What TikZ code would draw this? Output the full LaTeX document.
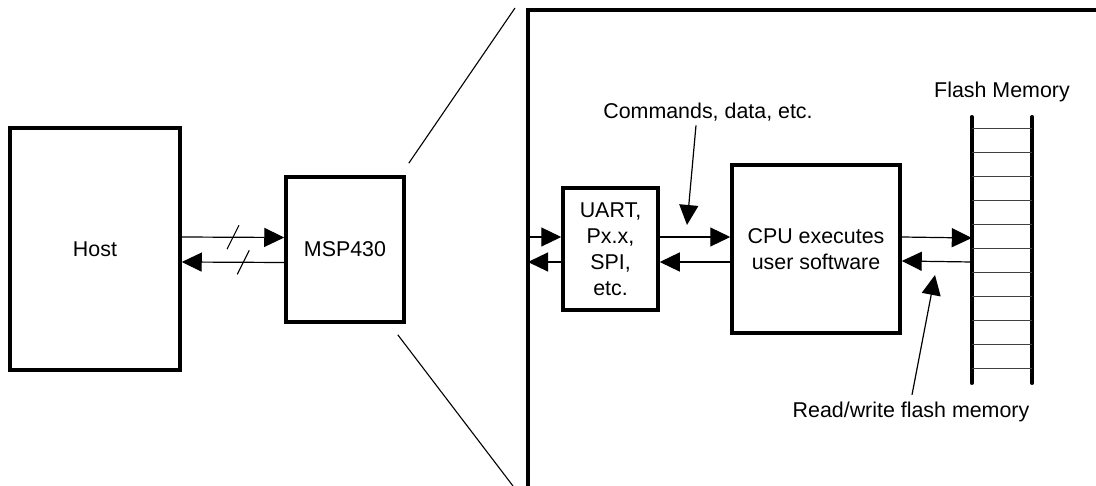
\documentclass[tikz,border=0pt]{standalone}
\usepackage{fontspec}
\setmainfont{Liberation Sans}
\usetikzlibrary{positioning, arrows.meta}

\begin{document}
\begin{tikzpicture}[x=1pt, y=-1pt,
    box/.style={draw, line width=3.5pt, inner sep=0pt, align=center, font=\fontsize{21.4}{26}\selectfont},
    link/.style={line width=1.2pt, -{Triangle[length=20pt, width=19pt]}},
    thinline/.style={line width=1.1pt},
    rung/.style={line width=1pt, black!75},
    caption/.style={font=\fontsize{21.4}{24}\selectfont, inner sep=0pt},
]
    \clip (0,0) rectangle (1096,486);
    % left side
    \node[box, minimum width=170, minimum height=242] (host) at (95,249) {Host};
    \node[box, minimum width=118, minimum height=145] (msp) at (345,249.5) {MSP430};
    \draw[link] ([yshift=12]host.east) -- coordinate[pos=0.5] (s1) ([yshift=12]msp.west);
    \draw[link] ([yshift=-13]msp.west) -- coordinate[pos=0.4] (s2) ([yshift=-13]host.east);
    \draw[thinline] ([shift={(-6,12)}]s1) -- ([shift={(6,-12)}]s1);
    \draw[thinline] ([shift={(-6,12)}]s2) -- ([shift={(6,-12)}]s2);
    % zoomed view
    \coordinate (bigtl) at (528,10);
    \coordinate (edge) at (528,249);
    \draw[line width=3.5pt] (1100,10) -- (bigtl) -- (528,490);
    \draw[thinline] ([shift={(3,-12)}]msp.north east) -- (515,8);
    \draw[thinline] ([shift={(-8,11)}]msp.south east) -- (513,486);
    \node[box, minimum width=95, minimum height=122] (uart) at (610.5,249) {UART,\\Px.x,\\SPI,\\etc.};
    \node[box, minimum width=168, minimum height=168] (cpu) at (816,249) {CPU executes\\user software};
    \node[minimum width=60, minimum height=266, inner sep=0pt] (flash) at (1002,250) {};
    \draw[line width=3.5pt, line cap=round] (flash.north west) -- (flash.south west);
    \draw[line width=3.5pt, line cap=round] (flash.north east) -- (flash.south east);
    \foreach \y in {129,153,...,369}
        \draw[rung] (flash.west |- 0,\y) -- (flash.east |- 0,\y);
    \draw[link] ([yshift=12]edge) -- ([yshift=12]uart.west);
    \draw[link] ([yshift=-13]uart.west) -- ([yshift=-13]edge);
    \draw[link] ([yshift=12]uart.east) -- ([yshift=12]cpu.west);
    \draw[link] ([yshift=-13]cpu.west) -- ([yshift=-13]uart.east);
    \draw[link] ([yshift=12]cpu.east) -- ([yshift=12]flash.west);
    \draw[link] ([yshift=-12]flash.west) -- ([yshift=-12]cpu.east);
    % labels
    \node[caption] (cmd) at (708,112) {Commands, data, etc.};
    \node[caption] (fmem) at (1002,92) {Flash Memory};
    \node[caption] (rw) at (911,412) {Read/write flash memory};
    \coordinate (cmdtip) at (687,225);
    \coordinate (rwtip) at (935,275);
    \draw[link] ([xshift=-12,yshift=-4]cmd.south) -- (cmdtip);
    \draw[link] ([xshift=1,yshift=7]rw.north) -- (rwtip);
\end{tikzpicture}
\end{document}
